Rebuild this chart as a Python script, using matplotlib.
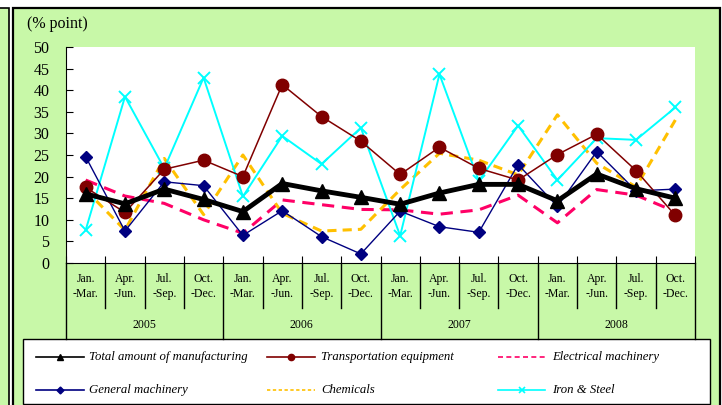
import numpy as np
import matplotlib.pyplot as plt
from matplotlib.patches import Rectangle
from matplotlib.lines import Line2D
import matplotlib.transforms as mtransforms

plt.rcParams['font.family'] = ['Liberation Serif', 'DejaVu Serif']

quarters = ['Jan.\n-Mar.', 'Apr.\n-Jun.', 'Jul.\n-Sep.', 'Oct.\n-Dec.'] * 4
years = ['2005', '2006', '2007', '2008']

total = [16.0, 13.7, 17.1, 14.7, 11.9, 18.4, 16.7, 15.2,
         13.6, 16.2, 18.2, 18.2, 14.4, 20.6, 17.2, 15.0]
transport = [17.5, 11.7, 21.7, 23.8, 20.0, 41.3, 33.9, 28.2,
             20.5, 26.8, 21.9, 19.2, 25.1, 29.8, 21.4, 11.0]
electrical = [19.2, 15.5, 13.8, 10.0, 6.9, 14.6, 13.5, 12.4,
              12.3, 11.3, 12.3, 15.7, 9.3, 17.0, 15.7, 11.9]
general = [24.6, 7.4, 18.8, 17.9, 6.4, 12.1, 6.1, 2.1,
           12.0, 8.4, 7.1, 22.8, 13.1, 25.8, 16.7, 17.1]
chemicals = [16.9, 7.6, 24.2, 11.2, 25.0, 11.5, 7.4, 7.8,
             17.0, 25.4, 23.8, 20.4, 34.3, 23.1, 17.6, 33.1]
iron = [7.6, 38.5, 21.9, 42.9, 15.4, 29.4, 22.9, 31.3,
        6.3, 43.7, 19.0, 31.8, 19.2, 28.9, 28.5, 36.0]

green = '#c8f8a8'
W, H = 722, 405

fig = plt.figure(figsize=(W / 100, H / 100), dpi=100)

# background layer in pixel coordinates: panels and legend frame
bg = fig.add_axes([0, 0, 1, 1])
bg.set_xlim(0, W)
bg.set_ylim(H, 0)
bg.axis('off')
bg.add_patch(Rectangle((-5, 8), 14, 400, facecolor=green, edgecolor='black', lw=1.2))
bg.add_patch(Rectangle((12.5, 8), 707.5, 400, facecolor=green, edgecolor='black', lw=1.6))
bg.add_patch(Rectangle((23, 339), 687, 65, facecolor='white', edgecolor='black', lw=1.0))
bg.text(27, 24, '(% point)', fontsize=11.5, va='center', ha='left')

ax = fig.add_axes([66 / W, (H - 263) / H, (695 - 66) / W, (263 - 47) / H])
ax.set_facecolor('white')
x = np.arange(len(total))

ax.plot(x, electrical, color='#ff0066', lw=2.2, ls=(0, (4, 2.5)))
ax.plot(x, chemicals, color='#ffc000', lw=2.2, ls=(0, (3, 2)))
ax.plot(x, iron, color='#00ffff', lw=1.4, marker='x', ms=9, mew=1.4)
ax.plot(x, general, color='#000080', lw=1.0, marker='D', ms=6)
ax.plot(x, transport, color='#800000', lw=1.1, marker='o', ms=9)
ax.plot(x, total, color='black', lw=3.5, marker='^', ms=10)

ax.set_xlim(-0.5, len(total) - 0.5)
ax.set_ylim(0, 50)
ax.set_yticks(range(0, 51, 5))
ax.tick_params(axis='y', direction='in', length=5, pad=12, labelsize=11.5)
ax.set_xticks(np.arange(-0.5, len(total), 1))
ax.set_xticklabels([])
ax.tick_params(axis='x', direction='in', length=5)
for s in ['top', 'right']:
    ax.spines[s].set_visible(False)

# category table under the axis
tr = mtransforms.blended_transform_factory(ax.transData, ax.transAxes)
row1 = -45 / 216
row2 = -76 / 216
for k in range(len(total) + 1):
    bottom = row2 if k % 4 == 0 else row1
    ax.add_line(Line2D([k - 0.5, k - 0.5], [0, bottom], transform=tr,
                       color='black', lw=1.0, clip_on=False))
for i, q in enumerate(quarters):
    ax.text(i, -23.5 / 216, q, transform=tr, ha='center', va='center',
            fontsize=8.5, linespacing=1.25)
for j, yr in enumerate(years):
    ax.text(4 * j + 1.5, -62 / 216, yr, transform=tr, ha='center', va='center',
            fontsize=8.5)

# legend entries
entries = [
    ('Total amount of manufacturing', dict(color='black', lw=1.2, marker='^', ms=4.5)),
    ('Transportation equipment', dict(color='#800000', lw=1.2, marker='o', ms=4.5)),
    ('Electrical machinery', dict(color='#ff0066', lw=1.2, ls=(0, (3, 2)))),
    ('General machinery', dict(color='#000080', lw=1.2, marker='D', ms=3.5)),
    ('Chemicals', dict(color='#ffc000', lw=1.2, ls=(0, (2, 1.5)))),
    ('Iron & Steel', dict(color='#00ffff', lw=1.2, marker='x', ms=4.5, mew=1.2)),
]
cols = [(36, 84, 89), (267, 315, 321), (498, 545, 552)]
rows = [357, 390]
for n, (label, style) in enumerate(entries):
    x0, x1, xt = cols[n % 3]
    yy = rows[n // 3]
    bg.plot([x0, (x0 + x1) / 2, x1], [yy, yy, yy], markevery=[1], **style)
    bg.text(xt, yy, label, fontsize=9.2, style='italic', va='center', ha='left')

fig.savefig('out.png', dpi=100)
